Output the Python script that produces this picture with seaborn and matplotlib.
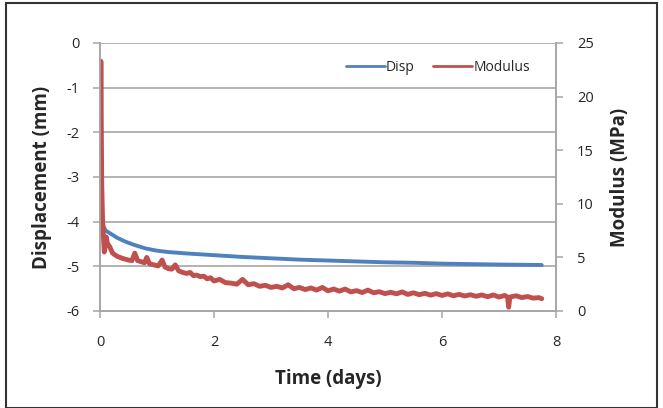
import matplotlib
matplotlib.use("Agg")
import matplotlib.pyplot as plt
import seaborn as sns
import pandas as pd
from matplotlib.patches import Rectangle

# ---- data ----
disp_time = [0.0, 0.03, 0.06, 0.1, 0.2, 0.3, 0.45, 0.6, 0.8, 1.0, 1.2, 1.5,
             2.0, 2.5, 3.0, 3.5, 4.0, 4.5, 5.0, 5.5, 6.0, 6.5, 7.0, 7.75]
disp_mm = [-3.7, -3.95, -4.1, -4.2, -4.28, -4.36, -4.45, -4.52, -4.6, -4.65, -4.68, -4.71,
           -4.75, -4.79, -4.82, -4.85, -4.87, -4.89, -4.91, -4.92, -4.94, -4.95, -4.96, -4.97]

mod_time = [0.0, 0.015, 0.03, 0.045, 0.06, 0.075, 0.09, 0.11, 0.13, 0.17, 0.22, 0.3,
            0.4, 0.5, 0.56, 0.61, 0.66, 0.72, 0.78, 0.82, 0.87, 0.95, 1.02, 1.09,
            1.14, 1.2, 1.26, 1.32, 1.38, 1.45, 1.52, 1.58, 1.64, 1.7, 1.76, 1.82,
            1.88, 1.94,
            2.0, 2.1, 2.2, 2.3, 2.4, 2.5, 2.6, 2.7, 2.8, 2.9, 3.0, 3.1, 3.2, 3.3,
            3.4, 3.5, 3.6, 3.7, 3.8, 3.9, 4.0, 4.1, 4.2, 4.3, 4.4, 4.5, 4.6, 4.7,
            4.8, 4.9, 5.0, 5.1, 5.2, 5.3, 5.4, 5.5, 5.6, 5.7, 5.8, 5.9, 6.0, 6.1,
            6.2, 6.3, 6.4, 6.5, 6.6, 6.7, 6.8, 6.9, 7.0, 7.1, 7.15, 7.17, 7.19,
            7.3, 7.4, 7.5, 7.6, 7.7, 7.75]
mod_mpa = [8.5, 23.3, 12.0, 8.5, 7.0, 5.5, 6.0, 6.9, 6.3, 6.0, 5.4, 5.1,
           4.9, 4.75, 4.7, 5.4, 4.7, 4.6, 4.5, 5.0, 4.4, 4.3, 4.2, 4.75,
           4.1, 3.95, 3.9, 4.3, 3.75, 3.6, 3.5, 3.6, 3.3, 3.35, 3.2, 3.25,
           3.0, 3.1,
           2.8, 2.95, 2.65, 2.6, 2.5, 2.95, 2.45, 2.55, 2.3, 2.4, 2.2, 2.3, 2.15, 2.45,
           2.08, 2.2, 2.0, 2.15, 1.95, 2.2, 1.88, 2.05, 1.85, 2.05, 1.78, 1.9, 1.72, 1.95,
           1.7, 1.8, 1.62, 1.75, 1.6, 1.78, 1.55, 1.7, 1.52, 1.65, 1.48, 1.62, 1.45, 1.6,
           1.42, 1.55, 1.4, 1.52, 1.37, 1.5, 1.33, 1.5, 1.3, 1.45, 1.3, 0.35, 1.3,
           1.42, 1.25, 1.35, 1.2, 1.25, 1.15]

x_ticks = [0, 2, 4, 6, 8]
left_ticks = [0, -1, -2, -3, -4, -5, -6]
right_ticks = [0, 5, 10, 15, 20, 25]

BLUE = "#4F81BD"
RED = "#C0504D"
GRID = "#a6a6a6"
TXT = "#262626"

sns.set_theme(style="white")
plt.rcParams["font.family"] = ["Open Sans", "DejaVu Sans"]

fig = plt.figure(figsize=(6.63, 4.08), dpi=100)
ax = fig.add_axes([100 / 663, 1 - 311 / 408, 456 / 663, 268 / 408])
ax2 = ax.twinx()

df_d = pd.DataFrame({"t": disp_time, "v": disp_mm})
df_m = pd.DataFrame({"t": mod_time, "v": mod_mpa})

sns.lineplot(data=df_d, x="t", y="v", ax=ax, color=BLUE, lw=2.8, label="Disp", legend=False)
sns.lineplot(data=df_m, x="t", y="v", ax=ax2, color=RED, lw=3.5, label="Modulus", legend=False)

ax.set_xlim(0, 8)
ax.set_ylim(-6, 0)
ax2.set_ylim(0, 25)
ax.set_xticks(x_ticks)
ax.set_yticks(left_ticks)
ax2.set_yticks(right_ticks)
ax.set_xticklabels([str(v) for v in x_ticks])
ax.set_yticklabels([str(v) for v in left_ticks])
ax2.set_yticklabels([str(v) for v in right_ticks])

ax.grid(axis="y", color=GRID, lw=1.2)
ax.grid(axis="x", visible=False)
ax2.grid(False)

for a in (ax, ax2):
    for s in a.spines.values():
        s.set_color(GRID)
        s.set_linewidth(1.2)
    a.spines["top"].set_visible(False)
    a.tick_params(colors=TXT, labelsize=10.5, length=5, width=1.1, color=GRID,
                  direction="out")
ax.tick_params(axis="y", pad=10)
ax2.tick_params(axis="y", pad=10)
ax.tick_params(axis="x", pad=12)
ax.tick_params(axis="both", which="both", left=True, bottom=True)
ax2.tick_params(axis="y", right=True)

ax.set_xlabel("Time (days)", fontsize=13.5, fontweight="bold", color=TXT, labelpad=14)
ax.set_ylabel("Displacement (mm)", fontsize=13.5, fontweight="bold", color=TXT, labelpad=10)
ax2.set_ylabel("Modulus (MPa)", fontsize=13.5, fontweight="bold", color=TXT, labelpad=12)

h1, l1 = ax.get_legend_handles_labels()
h2, l2 = ax2.get_legend_handles_labels()
leg = ax2.legend(h1 + h2, l1 + l2, loc="upper right", ncol=2, frameon=False,
                 fontsize=10, handlelength=2.8, handletextpad=0.1, columnspacing=1.3,
                 bbox_to_anchor=(0.97, 0.985))
for t in leg.get_texts():
    t.set_color(TXT)
for h in leg.get_lines():
    h.set_linewidth(2)

fig.patches.append(Rectangle((6 / 663, 0.0), 651 / 663, 1 - 3 / 408, transform=fig.transFigure,
                             fill=False, edgecolor="#333333", lw=1.5))

fig.savefig("out.png", dpi=100)
